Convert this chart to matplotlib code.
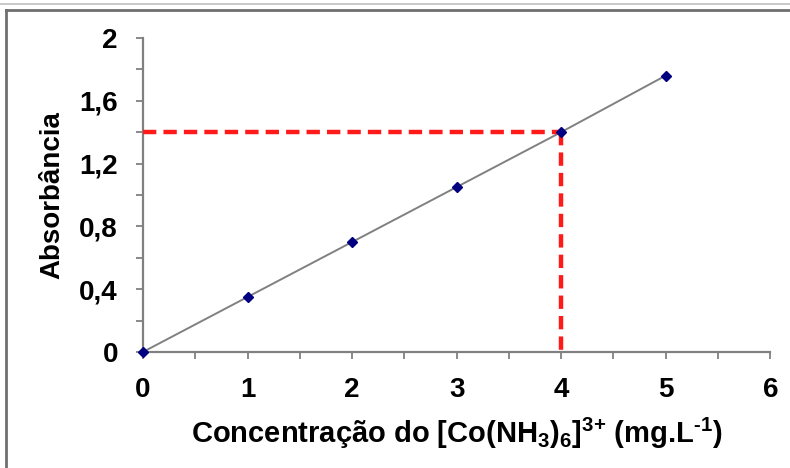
import matplotlib.pyplot as plt
from matplotlib.lines import Line2D
from matplotlib.ticker import MultipleLocator, FuncFormatter

plt.rcParams['font.family'] = ['Liberation Sans', 'DejaVu Sans']
plt.rcParams['mathtext.fontset'] = 'custom'
plt.rcParams['mathtext.rm'] = 'Liberation Sans:bold'
plt.rcParams['mathtext.it'] = 'Liberation Sans:bold'
plt.rcParams['mathtext.bf'] = 'Liberation Sans:bold'
plt.rcParams['mathtext.default'] = 'rm'

# dados da curva de calibração
conc = [0, 1, 2, 3, 4, 5]
absorb = [0.0, 0.35, 0.70, 1.05, 1.40, 1.76]
amostra_conc = 4.0
amostra_abs = 1.40

GRAY = '#808080'

fig = plt.figure(figsize=(7.9, 4.68), dpi=100)
ax = fig.add_axes([0.181, 0.248, 0.794, 0.671])

# linha de ajuste + pontos
ax.plot(conc, absorb, color=GRAY, lw=1.4, zorder=2)
ax.plot(conc, absorb, ls='none', marker='D', ms=5.5, color='#000080',
        zorder=5, clip_on=False)

# leitura da amostra
ax.plot([0, amostra_conc], [amostra_abs, amostra_abs], color='#FF1A1A',
        lw=3.2, dashes=(3, 1.6), zorder=3)
ax.plot([amostra_conc, amostra_conc], [amostra_abs, 0], color='#FF1A1A',
        lw=3.2, dashes=(3, 1.6), zorder=3)

ax.set_xlim(0, 6)
ax.set_ylim(0, 2)
ax.xaxis.set_major_locator(MultipleLocator(1))
ax.xaxis.set_minor_locator(MultipleLocator(0.5))
ax.yaxis.set_major_locator(MultipleLocator(0.4))
ax.yaxis.set_minor_locator(MultipleLocator(0.2))
ax.yaxis.set_major_formatter(FuncFormatter(lambda v, p: ('%g' % round(v, 1)).replace('.', ',')))

for s in ('top', 'right'):
    ax.spines[s].set_visible(False)
for s in ('left', 'bottom'):
    ax.spines[s].set_color(GRAY)
    ax.spines[s].set_linewidth(1.6)

ax.tick_params(which='both', direction='out', length=5, width=1.3, color=GRAY)
ax.tick_params(axis='y', which='major', pad=13, labelsize=20)
ax.tick_params(axis='x', which='major', pad=13, labelsize=20)
for lab in ax.get_xticklabels() + ax.get_yticklabels():
    lab.set_fontweight('bold')

ax.set_xlabel(r'Concentração do [Co(NH$_3$)$_6$]$^{\text{3+}}$ (mg.L$^{\text{-1}}$)',
              fontsize=21, fontweight='bold', labelpad=9)
ax.set_ylabel('Absorbância', fontsize=20, fontweight='bold', labelpad=10)

# moldura da imagem
fig.add_artist(Line2D([0, 1], [1 - 4 / 468, 1 - 4 / 468], color='#C0C0C0', lw=1.2))
fig.add_artist(Line2D([6 / 790, 1], [1 - 10 / 468, 1 - 10 / 468], color='#707070', lw=2))
fig.add_artist(Line2D([6 / 790, 6 / 790], [0, 1 - 10 / 468], color='#707070', lw=2))

fig.savefig('out.png', dpi=100)
